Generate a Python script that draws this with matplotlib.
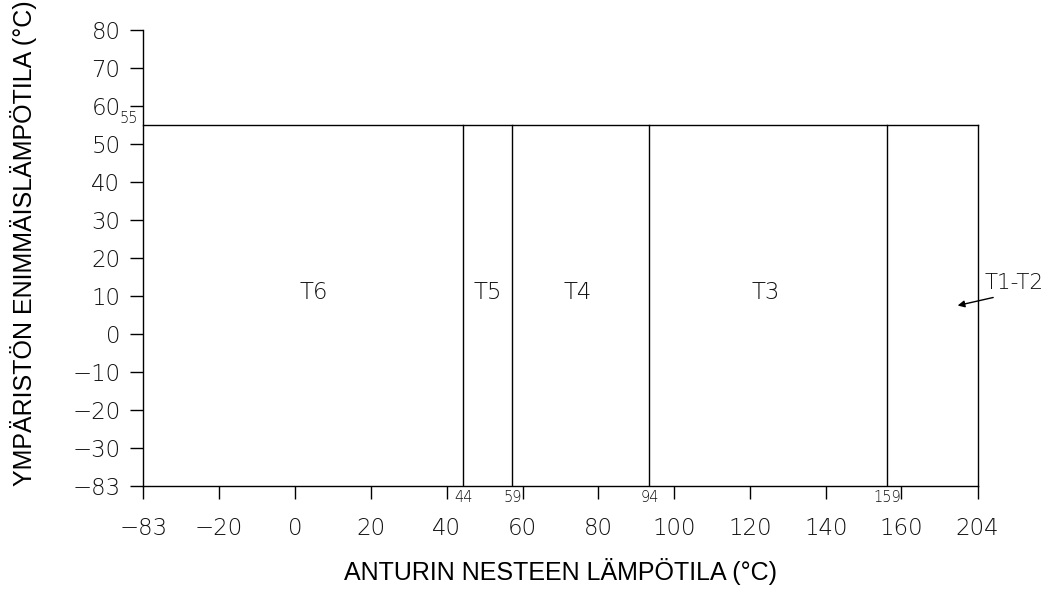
import numpy as np
import matplotlib
matplotlib.use("Agg")
import matplotlib.pyplot as plt

# ---- data ----
x_tick_values = [-83, -20, 0, 20, 40, 60, 80, 100, 120, 140, 160, 204]
y_tick_values = [-83, -30, -20, -10, 0, 10, 20, 30, 40, 50, 60, 70, 80]
zone_bounds = [44, 59, 94, 159]          # vertical boundaries (°C)
x_min, x_max = -83, 204
max_ambient = 55
zone_labels = ["T6", "T5", "T4", "T3"]
zone_label_x = [5, 51.6, 74.6, 124]
zone_label_y = 11
outer_label = "T1-T2"
outer_label_y = 13.4
outer_arrow_tip = (192.5, 7.45)

# schematic (non-linear) axis definition: knots of the drawing scale
x_knot_values = [-83, -20, 0, 20, 40, 44, 59, 60, 80, 94, 100, 120, 140, 159, 160, 204]
x_knot_pos = [0, 1, 2, 3, 4, 4.21, 4.865, 5, 6, 6.663, 7, 8, 9, 9.80, 9.99, 11]
y_knot_values = y_tick_values
y_knot_pos = list(range(len(y_tick_values)))


def fx(v):
    return np.interp(v, x_knot_values, x_knot_pos)


def fx_inv(p):
    return np.interp(p, x_knot_pos, x_knot_values)


def fy(v):
    return np.interp(v, y_knot_values, y_knot_pos)


def fy_inv(p):
    return np.interp(p, y_knot_pos, y_knot_values)


plt.rcParams['font.family'] = ['DejaVu Sans']
fig = plt.figure(figsize=(10.49, 5.90), dpi=100)
ax = fig.add_axes([0.1366, 0.1768, 0.932 - 0.1366, 0.949 - 0.1768])
ax.set_xscale('function', functions=(fx, fx_inv))
ax.set_yscale('function', functions=(fy, fy_inv))
ax.set_xlim(x_min, x_max)
ax.set_ylim(-83, 80)

lw = 1.0
col = 'black'
txtcol = '#111111'
for s in ['top', 'right']:
    ax.spines[s].set_visible(False)
for s in ['left', 'bottom']:
    ax.spines[s].set_linewidth(lw)

# rectangle: top at max ambient, right at x_max
ax.plot([x_min, x_max], [max_ambient, max_ambient], color=col, lw=lw, clip_on=False)
ax.plot([x_max, x_max], [-83, max_ambient], color=col, lw=lw, clip_on=False)
for b in zone_bounds:
    ax.plot([b, b], [-83, max_ambient], color=col, lw=lw)

ax.set_xticks(x_tick_values)
ax.set_xticklabels([str(v).replace('-', '\u2212') for v in x_tick_values])
ax.set_yticks(y_tick_values)
ax.set_yticklabels([str(v).replace('-', '\u2212') for v in y_tick_values])
ax.minorticks_off()
ax.tick_params(axis='x', direction='out', length=9.5, width=lw, pad=13, labelsize=16.5)
ax.tick_params(axis='y', direction='out', length=9.5, width=lw, pad=7, labelsize=16.5)
for lab in ax.get_xticklabels() + ax.get_yticklabels():
    lab.set_fontweight('light')
    lab.set_color(txtcol)

# zone labels
for lbl, xv in zip(zone_labels, zone_label_x):
    ax.text(xv, zone_label_y, lbl, ha='center', va='center', fontsize=16.5,
            fontweight='light', color=txtcol)

# boundary value labels
for b in zone_bounds:
    ax.annotate(str(b), xy=(b, -83), xytext=(0.5, -3), textcoords='offset points',
                ha='center', va='top', fontsize=10.5, fontweight='light', color=txtcol)
ax.annotate(str(max_ambient), xy=(x_min, max_ambient), xytext=(-4, -0.5), textcoords='offset points',
            ha='right', va='bottom', fontsize=10.5, fontweight='light', color=txtcol)

# outer label and arrow
ax.annotate('', xy=outer_arrow_tip, xycoords='data',
            xytext=(25.6, 5.8), textcoords='offset points',
            arrowprops=dict(arrowstyle='-|>', color=col, lw=lw, mutation_scale=10,
                            shrinkA=0, shrinkB=0),
            annotation_clip=False)
ax.annotate(outer_label, xy=(x_max, outer_label_y), xycoords='data',
            xytext=(5, 0), textcoords='offset points', ha='left', va='center',
            fontsize=15.5, fontweight='light', color=txtcol, annotation_clip=False)

ax.set_xlabel("ANTURIN NESTEEN LÄMPÖTILA (°C)", fontsize=18, family='Liberation Sans')
ax.set_ylabel("YMPÄRISTÖN ENIMMÄISLÄMPÖTILA (°C)", fontsize=18, family='Liberation Sans')
ax.xaxis.set_label_coords(0.5, -0.158)
ax.yaxis.set_label_coords(-0.127, 0.533)

fig.savefig("out.png", dpi=100)
